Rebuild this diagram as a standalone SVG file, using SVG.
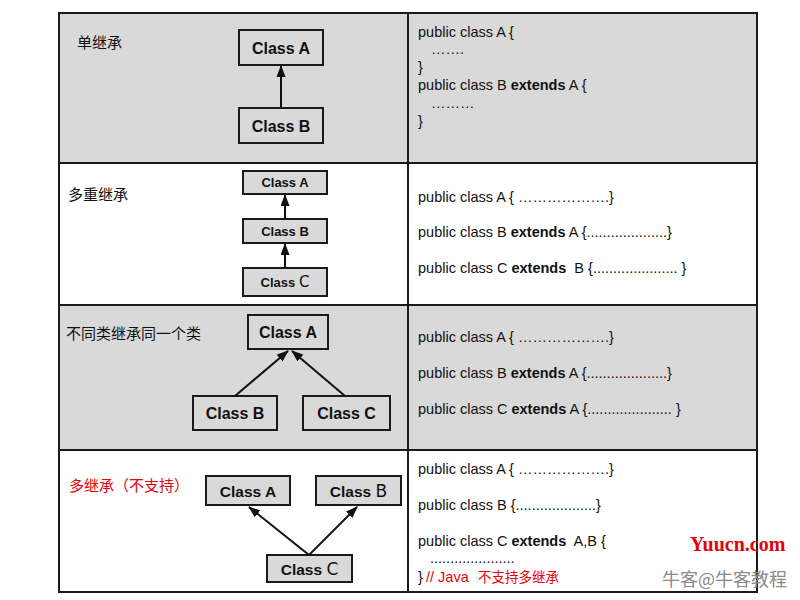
<svg xmlns="http://www.w3.org/2000/svg" width="800" height="600" viewBox="0 0 800 600">
<defs>
<style>
.bg{fill:#ffffff}
.gray{fill:#d9d9d9}
.frame{fill:none;stroke:#1a1a1a;stroke-width:2}
.box{fill:#d9d9d9;stroke:#1a1a1a;stroke-width:2}
.cls{font-family:"Liberation Sans",Arial,sans-serif;font-weight:bold;fill:#111;text-anchor:middle}
.thin{font-weight:normal;font-family:"DejaVu Sans","Liberation Sans",sans-serif}
.code{font-family:"Liberation Sans",Arial,sans-serif;font-size:14.5px;fill:#111}
.code .kw{font-weight:bold}
.cn{font-family:"Liberation Sans","Noto Sans CJK SC",sans-serif;font-size:15px;fill:#111}
.red{fill:#e8000b}
.edge{stroke:#111;stroke-width:2;fill:none;marker-end:url(#arr)}
</style>
<marker id="arr" markerWidth="12" markerHeight="9" refX="11" refY="4.5" orient="auto" markerUnits="userSpaceOnUse">
<path d="M0,0 L12,4.5 L0,9 z" fill="#111"/>
</marker>
</defs>
<rect x="0" y="0" width="800" height="600" class="bg"/>

<g id="table">
<rect x="59" y="13" width="698" height="150" class="gray"/>
<rect x="59" y="163" width="698" height="142" class="bg"/>
<rect x="59" y="305" width="698" height="145" class="gray"/>
<rect x="59" y="450" width="698" height="142" class="bg"/>
<rect x="59" y="13" width="698" height="579" class="frame"/>
<line x1="408" y1="13" x2="408" y2="592" class="frame"/>
<line x1="59" y1="163" x2="757" y2="163" class="frame"/>
<line x1="59" y1="305" x2="757" y2="305" class="frame"/>
<line x1="59" y1="450" x2="757" y2="450" class="frame"/>
</g>

<g id="labels">
<text x="77" y="48" class="cn">单继承</text>
<text x="68" y="200" class="cn">多重继承</text>
<text x="66" y="339" class="cn">不同类继承同一个类</text>
<text x="69" y="491" class="cn red">多继承（不支持）</text>
</g>

<g id="r1-classA"><rect x="239" y="30" width="84" height="35" class="box"/><text x="281" y="53.5" class="cls" font-size="16">Class A</text></g>
<g id="r1-classB"><rect x="239" y="108" width="84" height="35" class="box"/><text x="281" y="131.5" class="cls" font-size="16">Class B</text></g>

<g id="r2-classA"><rect x="243" y="171" width="84" height="23" class="box"/><text x="285" y="187" class="cls" font-size="13">Class A</text></g>
<g id="r2-classB"><rect x="243" y="219" width="84" height="24" class="box"/><text x="285" y="236" class="cls" font-size="13">Class B</text></g>
<g id="r2-classC"><rect x="243" y="268" width="84" height="28" class="box"/><text x="285" y="287" class="cls" font-size="13">Class <tspan class="thin" font-size="15">C</tspan></text></g>

<g id="r3-classA"><rect x="248" y="315" width="80" height="34" class="box"/><text x="288" y="338" class="cls" font-size="16">Class A</text></g>
<g id="r3-classB"><rect x="193" y="396" width="84" height="34" class="box"/><text x="235" y="419" class="cls" font-size="16">Class B</text></g>
<g id="r3-classC"><rect x="303" y="396" width="87" height="34" class="box"/><text x="346.5" y="419" class="cls" font-size="16">Class C</text></g>

<g id="r4-classA"><rect x="206" y="476" width="84" height="29" class="box"/><text x="248" y="496.5" class="cls" font-size="15.5">Class A</text></g>
<g id="r4-classB"><rect x="316" y="476" width="85" height="29" class="box"/><text x="358.5" y="496.5" class="cls" font-size="15.5">Class <tspan class="thin" font-size="17">B</tspan></text></g>
<g id="r4-classC"><rect x="267" y="555" width="85" height="27" class="box"/><text x="309.5" y="574.5" class="cls" font-size="15.5">Class <tspan class="thin" font-size="17">C</tspan></text></g>

<g id="connectors">
<line x1="281" y1="108" x2="281" y2="66" class="edge"/>
<line x1="285" y1="219" x2="285" y2="195" class="edge"/>
<line x1="285" y1="268" x2="285" y2="244" class="edge"/>
<line x1="235" y1="396" x2="288" y2="351" class="edge"/>
<line x1="345" y1="396" x2="292" y2="351" class="edge"/>
<line x1="309" y1="555" x2="249" y2="507" class="edge"/>
<line x1="309" y1="555" x2="357" y2="507" class="edge"/>
</g>

<g id="code1" class="code">
<text x="418" y="37">public class A {</text>
<text x="431" y="54">…….</text>
<text x="418" y="72">}</text>
<text x="418" y="90">public class B <tspan class="kw">extends</tspan> A {</text>
<text x="431" y="108">………</text>
<text x="418" y="126">}</text>
</g>

<g id="code2" class="code">
<text x="418" y="202">public class A { ……………….}</text>
<text x="418" y="237">public class B <tspan class="kw">extends</tspan> A {....................}</text>
<text x="418" y="273" xml:space="preserve">public class C <tspan class="kw">extends</tspan>  B {..................... }</text>
</g>

<g id="code3" class="code">
<text x="418" y="342">public class A { ……………….}</text>
<text x="418" y="378">public class B <tspan class="kw">extends</tspan> A {....................}</text>
<text x="418" y="414">public class C <tspan class="kw">extends</tspan> A {..................... }</text>
</g>

<g id="code4" class="code">
<text x="418" y="474">public class A { ……………….}</text>
<text x="418" y="510">public class B {....................}</text>
<text x="418" y="546" xml:space="preserve">public class C <tspan class="kw">extends</tspan>  A,B {</text>
<text x="430" y="563">.....................</text>
<text x="418" y="582">}</text>
<text x="426" y="582" class="red">// Java</text>
<text x="478" y="582" class="red" font-family="'Liberation Sans','Noto Sans CJK SC',sans-serif" font-size="13.5">不支持多继承</text>
</g>

<g id="watermark">
<text x="690" y="551" font-family="'Liberation Serif',serif" font-weight="bold" font-size="20" fill="#e8000b">Yuucn.com</text>
<text x="662" y="586" font-family="'Noto Sans CJK SC',sans-serif" font-size="18" fill="#8a8a8a">牛客@牛客教程</text>
</g>
</svg>
